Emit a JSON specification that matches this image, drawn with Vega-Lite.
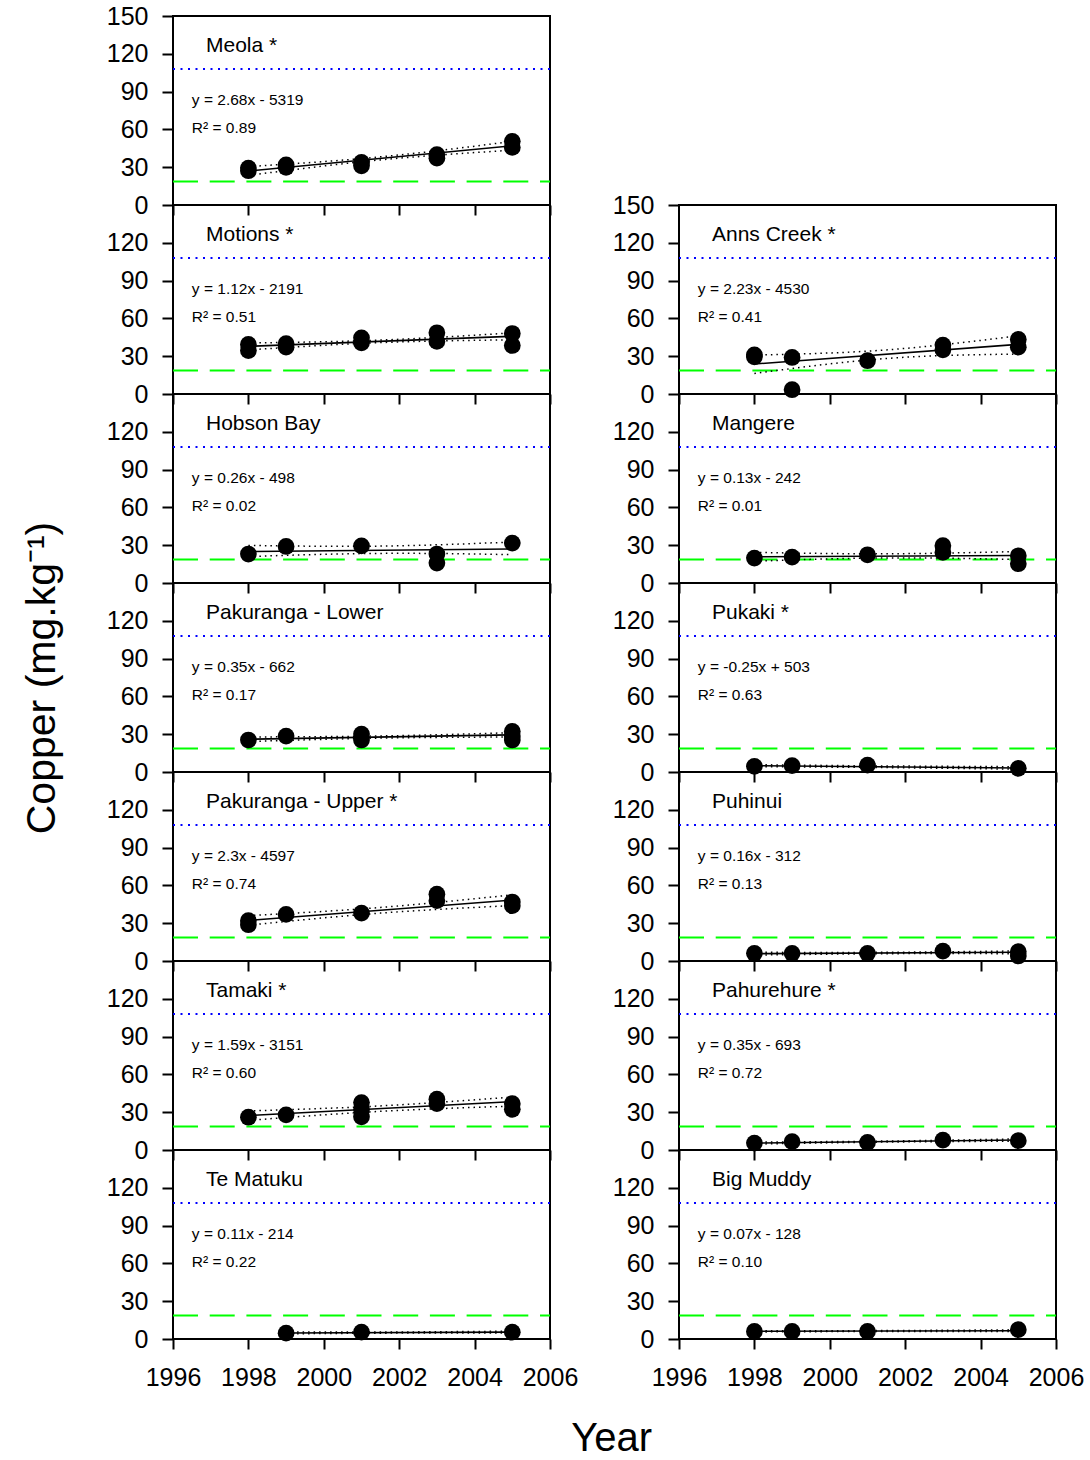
{
"$schema": "https://vega.github.io/schema/vega-lite/v6.json",
"background": "white",
"padding": {"left": 20, "top": 3, "right": 5, "bottom": 3},
"title": {"text": "Year", "orient": "bottom", "anchor": "middle", "fontSize": 40, "fontWeight": "normal", "font": "Liberation Sans", "color": "black", "offset": 28, "dx": 59},
"data": {"name": "cu"},
"datasets": {"cu": [
{"site":"Meola","kind":"label","title":"Meola *","eq":"y = 2.68x - 5319\nR² = 0.89"},
{"site":"Meola","kind":"obs","year":1998,"value":29.3},{"site":"Meola","kind":"obs","year":1998,"value":27.2},
{"site":"Meola","kind":"obs","year":1999,"value":31.9},{"site":"Meola","kind":"obs","year":1999,"value":29.9},
{"site":"Meola","kind":"obs","year":2001,"value":33.8},{"site":"Meola","kind":"obs","year":2001,"value":31.1},
{"site":"Meola","kind":"obs","year":2003,"value":39.9},{"site":"Meola","kind":"obs","year":2003,"value":37.2},
{"site":"Meola","kind":"obs","year":2005,"value":50.5},{"site":"Meola","kind":"obs","year":2005,"value":45.7},
{"site":"Meola","kind":"fit","year":1998,"value":27},{"site":"Meola","kind":"fit","year":2005,"value":47},
{"site":"Meola","kind":"upper","year":1998,"value":30.5},{"site":"Meola","kind":"upper","year":2001.5,"value":38.2},{"site":"Meola","kind":"upper","year":2005,"value":50.5},
{"site":"Meola","kind":"lower","year":1998,"value":23.5},{"site":"Meola","kind":"lower","year":2001.5,"value":35.8},{"site":"Meola","kind":"lower","year":2005,"value":43.5},
{"site":"Motions","kind":"label","title":"Motions *","eq":"y = 1.12x  - 2191\nR² = 0.51"},
{"site":"Motions","kind":"obs","year":1998,"value":39.3},{"site":"Motions","kind":"obs","year":1998,"value":34.5},
{"site":"Motions","kind":"obs","year":1999,"value":40},{"site":"Motions","kind":"obs","year":1999,"value":37.2},
{"site":"Motions","kind":"obs","year":2001,"value":44.6},{"site":"Motions","kind":"obs","year":2001,"value":40.6},
{"site":"Motions","kind":"obs","year":2003,"value":48.6},{"site":"Motions","kind":"obs","year":2003,"value":41.7},
{"site":"Motions","kind":"obs","year":2005,"value":48},{"site":"Motions","kind":"obs","year":2005,"value":38.5},
{"site":"Motions","kind":"fit","year":1998,"value":37.8},{"site":"Motions","kind":"fit","year":2005,"value":45.8},
{"site":"Motions","kind":"upper","year":1998,"value":40.5},{"site":"Motions","kind":"upper","year":2001.5,"value":42.8},{"site":"Motions","kind":"upper","year":2005,"value":48.5},
{"site":"Motions","kind":"lower","year":1998,"value":35},{"site":"Motions","kind":"lower","year":2001.5,"value":40.8},{"site":"Motions","kind":"lower","year":2005,"value":43},
{"site":"Hobson Bay","kind":"label","title":"Hobson Bay","eq":"y = 0.26x  - 498\nR² = 0.02"},
{"site":"Hobson Bay","kind":"obs","year":1998,"value":23},{"site":"Hobson Bay","kind":"obs","year":1999,"value":29},
{"site":"Hobson Bay","kind":"obs","year":2001,"value":29.5},{"site":"Hobson Bay","kind":"obs","year":2003,"value":23},
{"site":"Hobson Bay","kind":"obs","year":2003,"value":15.8},{"site":"Hobson Bay","kind":"obs","year":2005,"value":31.7},
{"site":"Hobson Bay","kind":"fit","year":1998,"value":25},{"site":"Hobson Bay","kind":"fit","year":2005,"value":27},
{"site":"Hobson Bay","kind":"upper","year":1998,"value":29.8},{"site":"Hobson Bay","kind":"upper","year":2001.5,"value":29.3},{"site":"Hobson Bay","kind":"upper","year":2005,"value":32.5},
{"site":"Hobson Bay","kind":"lower","year":1998,"value":21},{"site":"Hobson Bay","kind":"lower","year":2001.5,"value":23.5},{"site":"Hobson Bay","kind":"lower","year":2005,"value":22.5},
{"site":"Pakuranga - Lower","kind":"label","title":"Pakuranga - Lower","eq":"y = 0.35x - 662\nR² = 0.17"},
{"site":"Pakuranga - Lower","kind":"obs","year":1998,"value":25.4},{"site":"Pakuranga - Lower","kind":"obs","year":1999,"value":28.5},
{"site":"Pakuranga - Lower","kind":"obs","year":2001,"value":30.1},{"site":"Pakuranga - Lower","kind":"obs","year":2001,"value":25.4},
{"site":"Pakuranga - Lower","kind":"obs","year":2005,"value":32.2},{"site":"Pakuranga - Lower","kind":"obs","year":2005,"value":28.5},{"site":"Pakuranga - Lower","kind":"obs","year":2005,"value":25.4},
{"site":"Pakuranga - Lower","kind":"fit","year":1998,"value":26},{"site":"Pakuranga - Lower","kind":"fit","year":2005,"value":29.5},
{"site":"Pakuranga - Lower","kind":"upper","year":1998,"value":27.8},{"site":"Pakuranga - Lower","kind":"upper","year":2001.5,"value":28.6},{"site":"Pakuranga - Lower","kind":"upper","year":2005,"value":31.2},
{"site":"Pakuranga - Lower","kind":"lower","year":1998,"value":24.2},{"site":"Pakuranga - Lower","kind":"lower","year":2001.5,"value":26.9},{"site":"Pakuranga - Lower","kind":"lower","year":2005,"value":27.8},
{"site":"Pakuranga - Upper","kind":"label","title":"Pakuranga - Upper *","eq":"y = 2.3x - 4597\nR² = 0.74"},
{"site":"Pakuranga - Upper","kind":"obs","year":1998,"value":32},{"site":"Pakuranga - Upper","kind":"obs","year":1998,"value":28.8},
{"site":"Pakuranga - Upper","kind":"obs","year":1999,"value":37},{"site":"Pakuranga - Upper","kind":"obs","year":2001,"value":38},
{"site":"Pakuranga - Upper","kind":"obs","year":2003,"value":53},{"site":"Pakuranga - Upper","kind":"obs","year":2003,"value":47.9},
{"site":"Pakuranga - Upper","kind":"obs","year":2005,"value":46.8},{"site":"Pakuranga - Upper","kind":"obs","year":2005,"value":43.9},
{"site":"Pakuranga - Upper","kind":"fit","year":1998,"value":32.2},{"site":"Pakuranga - Upper","kind":"fit","year":2005,"value":48.3},
{"site":"Pakuranga - Upper","kind":"upper","year":1998,"value":36},{"site":"Pakuranga - Upper","kind":"upper","year":2001.5,"value":42.5},{"site":"Pakuranga - Upper","kind":"upper","year":2005,"value":52.5},
{"site":"Pakuranga - Upper","kind":"lower","year":1998,"value":28.4},{"site":"Pakuranga - Upper","kind":"lower","year":2001.5,"value":38},{"site":"Pakuranga - Upper","kind":"lower","year":2005,"value":44},
{"site":"Tamaki","kind":"label","title":"Tamaki *","eq":"y = 1.59x  - 3151\nR² = 0.60"},
{"site":"Tamaki","kind":"obs","year":1998,"value":26},{"site":"Tamaki","kind":"obs","year":1999,"value":27.9},
{"site":"Tamaki","kind":"obs","year":2001,"value":37.6},{"site":"Tamaki","kind":"obs","year":2001,"value":31.9},{"site":"Tamaki","kind":"obs","year":2001,"value":26.3},
{"site":"Tamaki","kind":"obs","year":2003,"value":40.3},{"site":"Tamaki","kind":"obs","year":2003,"value":36.8},
{"site":"Tamaki","kind":"obs","year":2005,"value":36.8},{"site":"Tamaki","kind":"obs","year":2005,"value":32.3},
{"site":"Tamaki","kind":"fit","year":1998,"value":27.3},{"site":"Tamaki","kind":"fit","year":2005,"value":38.4},
{"site":"Tamaki","kind":"upper","year":1998,"value":31},{"site":"Tamaki","kind":"upper","year":2001.5,"value":35},{"site":"Tamaki","kind":"upper","year":2005,"value":42},
{"site":"Tamaki","kind":"lower","year":1998,"value":23.5},{"site":"Tamaki","kind":"lower","year":2001.5,"value":30.7},{"site":"Tamaki","kind":"lower","year":2005,"value":34.8},
{"site":"Te Matuku","kind":"label","title":"Te Matuku","eq":"y = 0.11x  - 214\nR² = 0.22"},
{"site":"Te Matuku","kind":"obs","year":1999,"value":4.6},{"site":"Te Matuku","kind":"obs","year":2001,"value":5.4},{"site":"Te Matuku","kind":"obs","year":2005,"value":5.4},
{"site":"Te Matuku","kind":"fit","year":1999,"value":4.8},{"site":"Te Matuku","kind":"fit","year":2005,"value":5.5},
{"site":"Te Matuku","kind":"upper","year":1999,"value":5.5},{"site":"Te Matuku","kind":"upper","year":2002,"value":5.6},{"site":"Te Matuku","kind":"upper","year":2005,"value":6.2},
{"site":"Te Matuku","kind":"lower","year":1999,"value":4.1},{"site":"Te Matuku","kind":"lower","year":2002,"value":4.7},{"site":"Te Matuku","kind":"lower","year":2005,"value":4.8},
{"site":"Anns Creek","kind":"label","title":"Anns Creek *","eq":"y = 2.23x - 4530\nR² = 0.41"},
{"site":"Anns Creek","kind":"obs","year":1998,"value":31},{"site":"Anns Creek","kind":"obs","year":1998,"value":29.5},
{"site":"Anns Creek","kind":"obs","year":1999,"value":29},{"site":"Anns Creek","kind":"obs","year":1999,"value":3.4},
{"site":"Anns Creek","kind":"obs","year":2001,"value":26.4},
{"site":"Anns Creek","kind":"obs","year":2003,"value":38.8},{"site":"Anns Creek","kind":"obs","year":2003,"value":35.1},
{"site":"Anns Creek","kind":"obs","year":2005,"value":43.3},{"site":"Anns Creek","kind":"obs","year":2005,"value":37.2},
{"site":"Anns Creek","kind":"fit","year":1998,"value":23.8},{"site":"Anns Creek","kind":"fit","year":2005,"value":39.4},
{"site":"Anns Creek","kind":"upper","year":1998,"value":30.9},{"site":"Anns Creek","kind":"upper","year":2001.5,"value":35},{"site":"Anns Creek","kind":"upper","year":2005,"value":46.2},
{"site":"Anns Creek","kind":"lower","year":1998,"value":16.3},{"site":"Anns Creek","kind":"lower","year":2001.5,"value":28.2},{"site":"Anns Creek","kind":"lower","year":2005,"value":31.7},
{"site":"Mangere","kind":"label","title":"Mangere","eq":"y = 0.13x - 242\nR² = 0.01"},
{"site":"Mangere","kind":"obs","year":1998,"value":19.8},{"site":"Mangere","kind":"obs","year":1999,"value":20.6},
{"site":"Mangere","kind":"obs","year":2001,"value":22.4},{"site":"Mangere","kind":"obs","year":2003,"value":29.6},
{"site":"Mangere","kind":"obs","year":2003,"value":24.3},{"site":"Mangere","kind":"obs","year":2005,"value":21.6},{"site":"Mangere","kind":"obs","year":2005,"value":15.3},
{"site":"Mangere","kind":"fit","year":1998,"value":20.8},{"site":"Mangere","kind":"fit","year":2005,"value":21.8},
{"site":"Mangere","kind":"upper","year":1998,"value":24.3},{"site":"Mangere","kind":"upper","year":2001.5,"value":23.2},{"site":"Mangere","kind":"upper","year":2005,"value":25},
{"site":"Mangere","kind":"lower","year":1998,"value":17.3},{"site":"Mangere","kind":"lower","year":2001.5,"value":19.9},{"site":"Mangere","kind":"lower","year":2005,"value":18.6},
{"site":"Pukaki","kind":"label","title":"Pukaki *","eq":"y = -0.25x + 503\nR² = 0.63"},
{"site":"Pukaki","kind":"obs","year":1998,"value":4.5},{"site":"Pukaki","kind":"obs","year":1999,"value":5},
{"site":"Pukaki","kind":"obs","year":2001,"value":5.5},{"site":"Pukaki","kind":"obs","year":2005,"value":2.9},
{"site":"Pukaki","kind":"fit","year":1998,"value":5},{"site":"Pukaki","kind":"fit","year":2005,"value":3.2},
{"site":"Pukaki","kind":"upper","year":1998,"value":5.8},{"site":"Pukaki","kind":"upper","year":2001.5,"value":4.8},{"site":"Pukaki","kind":"upper","year":2005,"value":4.2},
{"site":"Pukaki","kind":"lower","year":1998,"value":4.2},{"site":"Pukaki","kind":"lower","year":2001.5,"value":3.5},{"site":"Pukaki","kind":"lower","year":2005,"value":2.2},
{"site":"Puhinui","kind":"label","title":"Puhinui","eq":"y = 0.16x - 312\nR² = 0.13"},
{"site":"Puhinui","kind":"obs","year":1998,"value":6.1},{"site":"Puhinui","kind":"obs","year":1999,"value":6.1},
{"site":"Puhinui","kind":"obs","year":2001,"value":6.1},{"site":"Puhinui","kind":"obs","year":2003,"value":7.9},
{"site":"Puhinui","kind":"obs","year":2005,"value":7.5},{"site":"Puhinui","kind":"obs","year":2005,"value":4},
{"site":"Puhinui","kind":"fit","year":1998,"value":5.8},{"site":"Puhinui","kind":"fit","year":2005,"value":6.9},
{"site":"Puhinui","kind":"upper","year":1998,"value":6.9},{"site":"Puhinui","kind":"upper","year":2001.5,"value":6.9},{"site":"Puhinui","kind":"upper","year":2005,"value":8},
{"site":"Puhinui","kind":"lower","year":1998,"value":4.7},{"site":"Puhinui","kind":"lower","year":2001.5,"value":5.8},{"site":"Puhinui","kind":"lower","year":2005,"value":5.8},
{"site":"Pahurehure","kind":"label","title":"Pahurehure *","eq":"y = 0.35x - 693\nR² = 0.72"},
{"site":"Pahurehure","kind":"obs","year":1998,"value":5.5},{"site":"Pahurehure","kind":"obs","year":1999,"value":6.6},
{"site":"Pahurehure","kind":"obs","year":2001,"value":6},{"site":"Pahurehure","kind":"obs","year":2003,"value":7.9},
{"site":"Pahurehure","kind":"obs","year":2005,"value":7.4},
{"site":"Pahurehure","kind":"fit","year":1998,"value":5.5},{"site":"Pahurehure","kind":"fit","year":2005,"value":7.9},
{"site":"Pahurehure","kind":"upper","year":1998,"value":6.3},{"site":"Pahurehure","kind":"upper","year":2001.5,"value":7.1},{"site":"Pahurehure","kind":"upper","year":2005,"value":8.8},
{"site":"Pahurehure","kind":"lower","year":1998,"value":4.7},{"site":"Pahurehure","kind":"lower","year":2001.5,"value":6.3},{"site":"Pahurehure","kind":"lower","year":2005,"value":7},
{"site":"Big Muddy","kind":"label","title":"Big Muddy","eq":"y = 0.07x - 128\nR² = 0.10"},
{"site":"Big Muddy","kind":"obs","year":1998,"value":6},{"site":"Big Muddy","kind":"obs","year":1999,"value":6},
{"site":"Big Muddy","kind":"obs","year":2001,"value":6},{"site":"Big Muddy","kind":"obs","year":2005,"value":7.4},
{"site":"Big Muddy","kind":"fit","year":1998,"value":6.1},{"site":"Big Muddy","kind":"fit","year":2005,"value":6.6},
{"site":"Big Muddy","kind":"upper","year":1998,"value":6.6},{"site":"Big Muddy","kind":"upper","year":2001.5,"value":6.7},{"site":"Big Muddy","kind":"upper","year":2005,"value":7.3},
{"site":"Big Muddy","kind":"lower","year":1998,"value":5.6},{"site":"Big Muddy","kind":"lower","year":2001.5,"value":6.0},{"site":"Big Muddy","kind":"lower","year":2005,"value":5.9}
]},
"columns": 2,
"spacing": {"row": 0, "column": 129},
"bounds": "flush",
"concat": [
{"width":377,"height":189,"transform":[{"filter":"datum.site==='Meola'"}],"layer":[
 {"transform":[{"filter":"datum.kind==='label'"}],"mark":{"type":"rule","color":"#0000ff","strokeWidth":2,"strokeDash":[2,5.5]},"encoding":{"x":{"datum":1996,"type":"quantitative"},"x2":{"datum":2006},"y":{"datum":108,"type":"quantitative"}}},
 {"transform":[{"filter":"datum.kind==='label'"}],"mark":{"type":"rule","color":"#00ff00","strokeWidth":2,"strokeDash":[25,11.7]},"encoding":{"x":{"datum":1996,"type":"quantitative"},"x2":{"datum":2006},"y":{"datum":18.7,"type":"quantitative"}}},
 {"transform":[{"filter":"datum.kind==='upper' || datum.kind==='lower'"}],"mark":{"type":"line","color":"black","strokeWidth":1.5,"strokeDash":[1.5,4],"interpolate":"natural"},"encoding":{"x":{"field":"year","type":"quantitative","scale":{"domain":[1996,2006],"nice":false,"zero":false},"axis":{"title":null,"values":[1996,1998,2000,2002,2004,2006],"format":"d","labels":false,"labelOverlap":false,"tickCount":12}},"y":{"field":"value","type":"quantitative","scale":{"domain":[0,150],"nice":false},"axis":{"title":null,"values":[0,30,60,90,120,150],"tickCount":12,"labelOverlap":false,"labelFlush":false}},"detail":{"field":"kind"}}},
 {"transform":[{"filter":"datum.kind==='fit'"}],"mark":{"type":"line","color":"black","strokeWidth":1.6},"encoding":{"x":{"field":"year","type":"quantitative","scale":{"domain":[1996,2006],"nice":false,"zero":false},"axis":{"title":null,"values":[1996,1998,2000,2002,2004,2006],"format":"d","labels":false,"labelOverlap":false,"tickCount":12}},"y":{"field":"value","type":"quantitative","scale":{"domain":[0,150],"nice":false},"axis":{"title":null,"values":[0,30,60,90,120,150],"tickCount":12,"labelOverlap":false,"labelFlush":false}}}},
 {"transform":[{"filter":"datum.kind==='obs'"}],"mark":{"type":"circle","color":"black","opacity":1,"size":280},"encoding":{"x":{"field":"year","type":"quantitative","scale":{"domain":[1996,2006],"nice":false,"zero":false},"axis":{"title":null,"values":[1996,1998,2000,2002,2004,2006],"format":"d","labels":false,"labelOverlap":false,"tickCount":12}},"y":{"field":"value","type":"quantitative","scale":{"domain":[0,150],"nice":false},"axis":{"title":null,"values":[0,30,60,90,120,150],"tickCount":12,"labelOverlap":false,"labelFlush":false}}}},
 {"transform":[{"filter":"datum.kind==='label'"}],"mark":{"type":"text","align":"left","baseline":"alphabetic","fontSize":21,"color":"black"},"encoding":{"x":{"datum":1996.875,"type":"quantitative"},"y":{"datum":121.5,"type":"quantitative"},"text":{"field":"title"}}},
 {"transform":[{"filter":"datum.kind==='label'"}],"mark":{"type":"text","align":"left","baseline":"alphabetic","fontSize":15.5,"color":"black","lineBreak":"\n","lineHeight":28.5},"encoding":{"x":{"datum":1996.5,"type":"quantitative"},"y":{"datum":79.6,"type":"quantitative"},"text":{"field":"eq"}}}
]},
{"width":377,"height":189,"view":{"stroke":null},"transform":[{"filter":"false"}],"mark":"point"},
{"width":377,"height":189,"transform":[{"filter":"datum.site==='Motions'"}],"layer":[
 {"transform":[{"filter":"datum.kind==='label'"}],"mark":{"type":"rule","color":"#0000ff","strokeWidth":2,"strokeDash":[2,5.5]},"encoding":{"x":{"datum":1996,"type":"quantitative"},"x2":{"datum":2006},"y":{"datum":108,"type":"quantitative"}}},
 {"transform":[{"filter":"datum.kind==='label'"}],"mark":{"type":"rule","color":"#00ff00","strokeWidth":2,"strokeDash":[25,11.7]},"encoding":{"x":{"datum":1996,"type":"quantitative"},"x2":{"datum":2006},"y":{"datum":18.7,"type":"quantitative"}}},
 {"transform":[{"filter":"datum.kind==='upper' || datum.kind==='lower'"}],"mark":{"type":"line","color":"black","strokeWidth":1.5,"strokeDash":[1.5,4],"interpolate":"natural"},"encoding":{"x":{"field":"year","type":"quantitative","scale":{"domain":[1996,2006],"nice":false,"zero":false},"axis":{"title":null,"values":[1996,1998,2000,2002,2004,2006],"format":"d","labels":false,"labelOverlap":false,"tickCount":12}},"y":{"field":"value","type":"quantitative","scale":{"domain":[0,150],"nice":false},"axis":{"title":null,"values":[0,30,60,90,120],"tickCount":12,"labelOverlap":false}},"detail":{"field":"kind"}}},
 {"transform":[{"filter":"datum.kind==='fit'"}],"mark":{"type":"line","color":"black","strokeWidth":1.6},"encoding":{"x":{"field":"year","type":"quantitative","scale":{"domain":[1996,2006],"nice":false,"zero":false},"axis":{"title":null,"values":[1996,1998,2000,2002,2004,2006],"format":"d","labels":false,"labelOverlap":false,"tickCount":12}},"y":{"field":"value","type":"quantitative","scale":{"domain":[0,150],"nice":false},"axis":{"title":null,"values":[0,30,60,90,120],"tickCount":12,"labelOverlap":false}}}},
 {"transform":[{"filter":"datum.kind==='obs'"}],"mark":{"type":"circle","color":"black","opacity":1,"size":280},"encoding":{"x":{"field":"year","type":"quantitative","scale":{"domain":[1996,2006],"nice":false,"zero":false},"axis":{"title":null,"values":[1996,1998,2000,2002,2004,2006],"format":"d","labels":false,"labelOverlap":false,"tickCount":12}},"y":{"field":"value","type":"quantitative","scale":{"domain":[0,150],"nice":false},"axis":{"title":null,"values":[0,30,60,90,120],"tickCount":12,"labelOverlap":false}}}},
 {"transform":[{"filter":"datum.kind==='label'"}],"mark":{"type":"text","align":"left","baseline":"alphabetic","fontSize":21,"color":"black"},"encoding":{"x":{"datum":1996.875,"type":"quantitative"},"y":{"datum":121.5,"type":"quantitative"},"text":{"field":"title"}}},
 {"transform":[{"filter":"datum.kind==='label'"}],"mark":{"type":"text","align":"left","baseline":"alphabetic","fontSize":15.5,"color":"black","lineBreak":"\n","lineHeight":28.5},"encoding":{"x":{"datum":1996.5,"type":"quantitative"},"y":{"datum":79.6,"type":"quantitative"},"text":{"field":"eq"}}}
]},
{"width":377,"height":189,"transform":[{"filter":"datum.site==='Anns Creek'"}],"layer":[
 {"transform":[{"filter":"datum.kind==='label'"}],"mark":{"type":"rule","color":"#0000ff","strokeWidth":2,"strokeDash":[2,5.5]},"encoding":{"x":{"datum":1996,"type":"quantitative"},"x2":{"datum":2006},"y":{"datum":108,"type":"quantitative"}}},
 {"transform":[{"filter":"datum.kind==='label'"}],"mark":{"type":"rule","color":"#00ff00","strokeWidth":2,"strokeDash":[25,11.7]},"encoding":{"x":{"datum":1996,"type":"quantitative"},"x2":{"datum":2006},"y":{"datum":18.7,"type":"quantitative"}}},
 {"transform":[{"filter":"datum.kind==='upper' || datum.kind==='lower'"}],"mark":{"type":"line","color":"black","strokeWidth":1.5,"strokeDash":[1.5,4],"interpolate":"natural"},"encoding":{"x":{"field":"year","type":"quantitative","scale":{"domain":[1996,2006],"nice":false,"zero":false},"axis":{"title":null,"values":[1996,1998,2000,2002,2004,2006],"format":"d","labels":false,"labelOverlap":false,"tickCount":12}},"y":{"field":"value","type":"quantitative","scale":{"domain":[0,150],"nice":false},"axis":{"title":null,"values":[0,30,60,90,120,150],"tickCount":12,"labelOverlap":false,"labelFlush":false}},"detail":{"field":"kind"}}},
 {"transform":[{"filter":"datum.kind==='fit'"}],"mark":{"type":"line","color":"black","strokeWidth":1.6},"encoding":{"x":{"field":"year","type":"quantitative","scale":{"domain":[1996,2006],"nice":false,"zero":false},"axis":{"title":null,"values":[1996,1998,2000,2002,2004,2006],"format":"d","labels":false,"labelOverlap":false,"tickCount":12}},"y":{"field":"value","type":"quantitative","scale":{"domain":[0,150],"nice":false},"axis":{"title":null,"values":[0,30,60,90,120,150],"tickCount":12,"labelOverlap":false,"labelFlush":false}}}},
 {"transform":[{"filter":"datum.kind==='obs'"}],"mark":{"type":"circle","color":"black","opacity":1,"size":280},"encoding":{"x":{"field":"year","type":"quantitative","scale":{"domain":[1996,2006],"nice":false,"zero":false},"axis":{"title":null,"values":[1996,1998,2000,2002,2004,2006],"format":"d","labels":false,"labelOverlap":false,"tickCount":12}},"y":{"field":"value","type":"quantitative","scale":{"domain":[0,150],"nice":false},"axis":{"title":null,"values":[0,30,60,90,120,150],"tickCount":12,"labelOverlap":false,"labelFlush":false}}}},
 {"transform":[{"filter":"datum.kind==='label'"}],"mark":{"type":"text","align":"left","baseline":"alphabetic","fontSize":21,"color":"black"},"encoding":{"x":{"datum":1996.875,"type":"quantitative"},"y":{"datum":121.5,"type":"quantitative"},"text":{"field":"title"}}},
 {"transform":[{"filter":"datum.kind==='label'"}],"mark":{"type":"text","align":"left","baseline":"alphabetic","fontSize":15.5,"color":"black","lineBreak":"\n","lineHeight":28.5},"encoding":{"x":{"datum":1996.5,"type":"quantitative"},"y":{"datum":79.6,"type":"quantitative"},"text":{"field":"eq"}}}
]},
{"width":377,"height":189,"transform":[{"filter":"datum.site==='Hobson Bay'"}],"layer":[
 {"transform":[{"filter":"datum.kind==='label'"}],"mark":{"type":"rule","color":"#0000ff","strokeWidth":2,"strokeDash":[2,5.5]},"encoding":{"x":{"datum":1996,"type":"quantitative"},"x2":{"datum":2006},"y":{"datum":108,"type":"quantitative"}}},
 {"transform":[{"filter":"datum.kind==='label'"}],"mark":{"type":"rule","color":"#00ff00","strokeWidth":2,"strokeDash":[25,11.7]},"encoding":{"x":{"datum":1996,"type":"quantitative"},"x2":{"datum":2006},"y":{"datum":18.7,"type":"quantitative"}}},
 {"transform":[{"filter":"datum.kind==='upper' || datum.kind==='lower'"}],"mark":{"type":"line","color":"black","strokeWidth":1.5,"strokeDash":[1.5,4],"interpolate":"natural"},"encoding":{"x":{"field":"year","type":"quantitative","scale":{"domain":[1996,2006],"nice":false,"zero":false},"axis":{"title":null,"values":[1996,1998,2000,2002,2004,2006],"format":"d","labels":false,"labelOverlap":false,"tickCount":12}},"y":{"field":"value","type":"quantitative","scale":{"domain":[0,150],"nice":false},"axis":{"title":null,"values":[0,30,60,90,120],"tickCount":12,"labelOverlap":false}},"detail":{"field":"kind"}}},
 {"transform":[{"filter":"datum.kind==='fit'"}],"mark":{"type":"line","color":"black","strokeWidth":1.6},"encoding":{"x":{"field":"year","type":"quantitative","scale":{"domain":[1996,2006],"nice":false,"zero":false},"axis":{"title":null,"values":[1996,1998,2000,2002,2004,2006],"format":"d","labels":false,"labelOverlap":false,"tickCount":12}},"y":{"field":"value","type":"quantitative","scale":{"domain":[0,150],"nice":false},"axis":{"title":null,"values":[0,30,60,90,120],"tickCount":12,"labelOverlap":false}}}},
 {"transform":[{"filter":"datum.kind==='obs'"}],"mark":{"type":"circle","color":"black","opacity":1,"size":280},"encoding":{"x":{"field":"year","type":"quantitative","scale":{"domain":[1996,2006],"nice":false,"zero":false},"axis":{"title":null,"values":[1996,1998,2000,2002,2004,2006],"format":"d","labels":false,"labelOverlap":false,"tickCount":12}},"y":{"field":"value","type":"quantitative","scale":{"domain":[0,150],"nice":false},"axis":{"title":null,"values":[0,30,60,90,120],"tickCount":12,"labelOverlap":false}}}},
 {"transform":[{"filter":"datum.kind==='label'"}],"mark":{"type":"text","align":"left","baseline":"alphabetic","fontSize":21,"color":"black"},"encoding":{"x":{"datum":1996.875,"type":"quantitative"},"y":{"datum":121.5,"type":"quantitative"},"text":{"field":"title"}}},
 {"transform":[{"filter":"datum.kind==='label'"}],"mark":{"type":"text","align":"left","baseline":"alphabetic","fontSize":15.5,"color":"black","lineBreak":"\n","lineHeight":28.5},"encoding":{"x":{"datum":1996.5,"type":"quantitative"},"y":{"datum":79.6,"type":"quantitative"},"text":{"field":"eq"}}}
]},
{"width":377,"height":189,"transform":[{"filter":"datum.site==='Mangere'"}],"layer":[
 {"transform":[{"filter":"datum.kind==='label'"}],"mark":{"type":"rule","color":"#0000ff","strokeWidth":2,"strokeDash":[2,5.5]},"encoding":{"x":{"datum":1996,"type":"quantitative"},"x2":{"datum":2006},"y":{"datum":108,"type":"quantitative"}}},
 {"transform":[{"filter":"datum.kind==='label'"}],"mark":{"type":"rule","color":"#00ff00","strokeWidth":2,"strokeDash":[25,11.7]},"encoding":{"x":{"datum":1996,"type":"quantitative"},"x2":{"datum":2006},"y":{"datum":18.7,"type":"quantitative"}}},
 {"transform":[{"filter":"datum.kind==='upper' || datum.kind==='lower'"}],"mark":{"type":"line","color":"black","strokeWidth":1.5,"strokeDash":[1.5,4],"interpolate":"natural"},"encoding":{"x":{"field":"year","type":"quantitative","scale":{"domain":[1996,2006],"nice":false,"zero":false},"axis":{"title":null,"values":[1996,1998,2000,2002,2004,2006],"format":"d","labels":false,"labelOverlap":false,"tickCount":12}},"y":{"field":"value","type":"quantitative","scale":{"domain":[0,150],"nice":false},"axis":{"title":null,"values":[0,30,60,90,120],"tickCount":12,"labelOverlap":false}},"detail":{"field":"kind"}}},
 {"transform":[{"filter":"datum.kind==='fit'"}],"mark":{"type":"line","color":"black","strokeWidth":1.6},"encoding":{"x":{"field":"year","type":"quantitative","scale":{"domain":[1996,2006],"nice":false,"zero":false},"axis":{"title":null,"values":[1996,1998,2000,2002,2004,2006],"format":"d","labels":false,"labelOverlap":false,"tickCount":12}},"y":{"field":"value","type":"quantitative","scale":{"domain":[0,150],"nice":false},"axis":{"title":null,"values":[0,30,60,90,120],"tickCount":12,"labelOverlap":false}}}},
 {"transform":[{"filter":"datum.kind==='obs'"}],"mark":{"type":"circle","color":"black","opacity":1,"size":280},"encoding":{"x":{"field":"year","type":"quantitative","scale":{"domain":[1996,2006],"nice":false,"zero":false},"axis":{"title":null,"values":[1996,1998,2000,2002,2004,2006],"format":"d","labels":false,"labelOverlap":false,"tickCount":12}},"y":{"field":"value","type":"quantitative","scale":{"domain":[0,150],"nice":false},"axis":{"title":null,"values":[0,30,60,90,120],"tickCount":12,"labelOverlap":false}}}},
 {"transform":[{"filter":"datum.kind==='label'"}],"mark":{"type":"text","align":"left","baseline":"alphabetic","fontSize":21,"color":"black"},"encoding":{"x":{"datum":1996.875,"type":"quantitative"},"y":{"datum":121.5,"type":"quantitative"},"text":{"field":"title"}}},
 {"transform":[{"filter":"datum.kind==='label'"}],"mark":{"type":"text","align":"left","baseline":"alphabetic","fontSize":15.5,"color":"black","lineBreak":"\n","lineHeight":28.5},"encoding":{"x":{"datum":1996.5,"type":"quantitative"},"y":{"datum":79.6,"type":"quantitative"},"text":{"field":"eq"}}}
]},
{"width":377,"height":189,"transform":[{"filter":"datum.site==='Pakuranga - Lower'"}],"layer":[
 {"transform":[{"filter":"datum.kind==='label'"}],"mark":{"type":"rule","color":"#0000ff","strokeWidth":2,"strokeDash":[2,5.5]},"encoding":{"x":{"datum":1996,"type":"quantitative"},"x2":{"datum":2006},"y":{"datum":108,"type":"quantitative"}}},
 {"transform":[{"filter":"datum.kind==='label'"}],"mark":{"type":"rule","color":"#00ff00","strokeWidth":2,"strokeDash":[25,11.7]},"encoding":{"x":{"datum":1996,"type":"quantitative"},"x2":{"datum":2006},"y":{"datum":18.7,"type":"quantitative"}}},
 {"transform":[{"filter":"datum.kind==='upper' || datum.kind==='lower'"}],"mark":{"type":"line","color":"black","strokeWidth":1.5,"strokeDash":[1.5,4],"interpolate":"natural"},"encoding":{"x":{"field":"year","type":"quantitative","scale":{"domain":[1996,2006],"nice":false,"zero":false},"axis":{"title":null,"values":[1996,1998,2000,2002,2004,2006],"format":"d","labels":false,"labelOverlap":false,"tickCount":12}},"y":{"field":"value","type":"quantitative","scale":{"domain":[0,150],"nice":false},"axis":{"title":"Copper (mg.kg⁻¹)","titleFontSize":41,"titleFontWeight":"normal","titleFont":"Liberation Sans","titleColor":"black","titlePadding":43,"values":[0,30,60,90,120],"tickCount":12,"labelOverlap":false}},"detail":{"field":"kind"}}},
 {"transform":[{"filter":"datum.kind==='fit'"}],"mark":{"type":"line","color":"black","strokeWidth":1.6},"encoding":{"x":{"field":"year","type":"quantitative","scale":{"domain":[1996,2006],"nice":false,"zero":false},"axis":{"title":null,"values":[1996,1998,2000,2002,2004,2006],"format":"d","labels":false,"labelOverlap":false,"tickCount":12}},"y":{"field":"value","type":"quantitative","scale":{"domain":[0,150],"nice":false},"axis":{"title":"Copper (mg.kg⁻¹)","titleFontSize":41,"titleFontWeight":"normal","titleFont":"Liberation Sans","titleColor":"black","titlePadding":43,"values":[0,30,60,90,120],"tickCount":12,"labelOverlap":false}}}},
 {"transform":[{"filter":"datum.kind==='obs'"}],"mark":{"type":"circle","color":"black","opacity":1,"size":280},"encoding":{"x":{"field":"year","type":"quantitative","scale":{"domain":[1996,2006],"nice":false,"zero":false},"axis":{"title":null,"values":[1996,1998,2000,2002,2004,2006],"format":"d","labels":false,"labelOverlap":false,"tickCount":12}},"y":{"field":"value","type":"quantitative","scale":{"domain":[0,150],"nice":false},"axis":{"title":"Copper (mg.kg⁻¹)","titleFontSize":41,"titleFontWeight":"normal","titleFont":"Liberation Sans","titleColor":"black","titlePadding":43,"values":[0,30,60,90,120],"tickCount":12,"labelOverlap":false}}}},
 {"transform":[{"filter":"datum.kind==='label'"}],"mark":{"type":"text","align":"left","baseline":"alphabetic","fontSize":21,"color":"black"},"encoding":{"x":{"datum":1996.875,"type":"quantitative"},"y":{"datum":121.5,"type":"quantitative"},"text":{"field":"title"}}},
 {"transform":[{"filter":"datum.kind==='label'"}],"mark":{"type":"text","align":"left","baseline":"alphabetic","fontSize":15.5,"color":"black","lineBreak":"\n","lineHeight":28.5},"encoding":{"x":{"datum":1996.5,"type":"quantitative"},"y":{"datum":79.6,"type":"quantitative"},"text":{"field":"eq"}}}
]},
{"width":377,"height":189,"transform":[{"filter":"datum.site==='Pukaki'"}],"layer":[
 {"transform":[{"filter":"datum.kind==='label'"}],"mark":{"type":"rule","color":"#0000ff","strokeWidth":2,"strokeDash":[2,5.5]},"encoding":{"x":{"datum":1996,"type":"quantitative"},"x2":{"datum":2006},"y":{"datum":108,"type":"quantitative"}}},
 {"transform":[{"filter":"datum.kind==='label'"}],"mark":{"type":"rule","color":"#00ff00","strokeWidth":2,"strokeDash":[25,11.7]},"encoding":{"x":{"datum":1996,"type":"quantitative"},"x2":{"datum":2006},"y":{"datum":18.7,"type":"quantitative"}}},
 {"transform":[{"filter":"datum.kind==='upper' || datum.kind==='lower'"}],"mark":{"type":"line","color":"black","strokeWidth":1.5,"strokeDash":[1.5,4],"interpolate":"natural"},"encoding":{"x":{"field":"year","type":"quantitative","scale":{"domain":[1996,2006],"nice":false,"zero":false},"axis":{"title":null,"values":[1996,1998,2000,2002,2004,2006],"format":"d","labels":false,"labelOverlap":false,"tickCount":12}},"y":{"field":"value","type":"quantitative","scale":{"domain":[0,150],"nice":false},"axis":{"title":null,"values":[0,30,60,90,120],"tickCount":12,"labelOverlap":false}},"detail":{"field":"kind"}}},
 {"transform":[{"filter":"datum.kind==='fit'"}],"mark":{"type":"line","color":"black","strokeWidth":1.6},"encoding":{"x":{"field":"year","type":"quantitative","scale":{"domain":[1996,2006],"nice":false,"zero":false},"axis":{"title":null,"values":[1996,1998,2000,2002,2004,2006],"format":"d","labels":false,"labelOverlap":false,"tickCount":12}},"y":{"field":"value","type":"quantitative","scale":{"domain":[0,150],"nice":false},"axis":{"title":null,"values":[0,30,60,90,120],"tickCount":12,"labelOverlap":false}}}},
 {"transform":[{"filter":"datum.kind==='obs'"}],"mark":{"type":"circle","color":"black","opacity":1,"size":280},"encoding":{"x":{"field":"year","type":"quantitative","scale":{"domain":[1996,2006],"nice":false,"zero":false},"axis":{"title":null,"values":[1996,1998,2000,2002,2004,2006],"format":"d","labels":false,"labelOverlap":false,"tickCount":12}},"y":{"field":"value","type":"quantitative","scale":{"domain":[0,150],"nice":false},"axis":{"title":null,"values":[0,30,60,90,120],"tickCount":12,"labelOverlap":false}}}},
 {"transform":[{"filter":"datum.kind==='label'"}],"mark":{"type":"text","align":"left","baseline":"alphabetic","fontSize":21,"color":"black"},"encoding":{"x":{"datum":1996.875,"type":"quantitative"},"y":{"datum":121.5,"type":"quantitative"},"text":{"field":"title"}}},
 {"transform":[{"filter":"datum.kind==='label'"}],"mark":{"type":"text","align":"left","baseline":"alphabetic","fontSize":15.5,"color":"black","lineBreak":"\n","lineHeight":28.5},"encoding":{"x":{"datum":1996.5,"type":"quantitative"},"y":{"datum":79.6,"type":"quantitative"},"text":{"field":"eq"}}}
]},
{"width":377,"height":189,"transform":[{"filter":"datum.site==='Pakuranga - Upper'"}],"layer":[
 {"transform":[{"filter":"datum.kind==='label'"}],"mark":{"type":"rule","color":"#0000ff","strokeWidth":2,"strokeDash":[2,5.5]},"encoding":{"x":{"datum":1996,"type":"quantitative"},"x2":{"datum":2006},"y":{"datum":108,"type":"quantitative"}}},
 {"transform":[{"filter":"datum.kind==='label'"}],"mark":{"type":"rule","color":"#00ff00","strokeWidth":2,"strokeDash":[25,11.7]},"encoding":{"x":{"datum":1996,"type":"quantitative"},"x2":{"datum":2006},"y":{"datum":18.7,"type":"quantitative"}}},
 {"transform":[{"filter":"datum.kind==='upper' || datum.kind==='lower'"}],"mark":{"type":"line","color":"black","strokeWidth":1.5,"strokeDash":[1.5,4],"interpolate":"natural"},"encoding":{"x":{"field":"year","type":"quantitative","scale":{"domain":[1996,2006],"nice":false,"zero":false},"axis":{"title":null,"values":[1996,1998,2000,2002,2004,2006],"format":"d","labels":false,"labelOverlap":false,"tickCount":12}},"y":{"field":"value","type":"quantitative","scale":{"domain":[0,150],"nice":false},"axis":{"title":null,"values":[0,30,60,90,120],"tickCount":12,"labelOverlap":false}},"detail":{"field":"kind"}}},
 {"transform":[{"filter":"datum.kind==='fit'"}],"mark":{"type":"line","color":"black","strokeWidth":1.6},"encoding":{"x":{"field":"year","type":"quantitative","scale":{"domain":[1996,2006],"nice":false,"zero":false},"axis":{"title":null,"values":[1996,1998,2000,2002,2004,2006],"format":"d","labels":false,"labelOverlap":false,"tickCount":12}},"y":{"field":"value","type":"quantitative","scale":{"domain":[0,150],"nice":false},"axis":{"title":null,"values":[0,30,60,90,120],"tickCount":12,"labelOverlap":false}}}},
 {"transform":[{"filter":"datum.kind==='obs'"}],"mark":{"type":"circle","color":"black","opacity":1,"size":280},"encoding":{"x":{"field":"year","type":"quantitative","scale":{"domain":[1996,2006],"nice":false,"zero":false},"axis":{"title":null,"values":[1996,1998,2000,2002,2004,2006],"format":"d","labels":false,"labelOverlap":false,"tickCount":12}},"y":{"field":"value","type":"quantitative","scale":{"domain":[0,150],"nice":false},"axis":{"title":null,"values":[0,30,60,90,120],"tickCount":12,"labelOverlap":false}}}},
 {"transform":[{"filter":"datum.kind==='label'"}],"mark":{"type":"text","align":"left","baseline":"alphabetic","fontSize":21,"color":"black"},"encoding":{"x":{"datum":1996.875,"type":"quantitative"},"y":{"datum":121.5,"type":"quantitative"},"text":{"field":"title"}}},
 {"transform":[{"filter":"datum.kind==='label'"}],"mark":{"type":"text","align":"left","baseline":"alphabetic","fontSize":15.5,"color":"black","lineBreak":"\n","lineHeight":28.5},"encoding":{"x":{"datum":1996.5,"type":"quantitative"},"y":{"datum":79.6,"type":"quantitative"},"text":{"field":"eq"}}}
]},
{"width":377,"height":189,"transform":[{"filter":"datum.site==='Puhinui'"}],"layer":[
 {"transform":[{"filter":"datum.kind==='label'"}],"mark":{"type":"rule","color":"#0000ff","strokeWidth":2,"strokeDash":[2,5.5]},"encoding":{"x":{"datum":1996,"type":"quantitative"},"x2":{"datum":2006},"y":{"datum":108,"type":"quantitative"}}},
 {"transform":[{"filter":"datum.kind==='label'"}],"mark":{"type":"rule","color":"#00ff00","strokeWidth":2,"strokeDash":[25,11.7]},"encoding":{"x":{"datum":1996,"type":"quantitative"},"x2":{"datum":2006},"y":{"datum":18.7,"type":"quantitative"}}},
 {"transform":[{"filter":"datum.kind==='upper' || datum.kind==='lower'"}],"mark":{"type":"line","color":"black","strokeWidth":1.5,"strokeDash":[1.5,4],"interpolate":"natural"},"encoding":{"x":{"field":"year","type":"quantitative","scale":{"domain":[1996,2006],"nice":false,"zero":false},"axis":{"title":null,"values":[1996,1998,2000,2002,2004,2006],"format":"d","labels":false,"labelOverlap":false,"tickCount":12}},"y":{"field":"value","type":"quantitative","scale":{"domain":[0,150],"nice":false},"axis":{"title":null,"values":[0,30,60,90,120],"tickCount":12,"labelOverlap":false}},"detail":{"field":"kind"}}},
 {"transform":[{"filter":"datum.kind==='fit'"}],"mark":{"type":"line","color":"black","strokeWidth":1.6},"encoding":{"x":{"field":"year","type":"quantitative","scale":{"domain":[1996,2006],"nice":false,"zero":false},"axis":{"title":null,"values":[1996,1998,2000,2002,2004,2006],"format":"d","labels":false,"labelOverlap":false,"tickCount":12}},"y":{"field":"value","type":"quantitative","scale":{"domain":[0,150],"nice":false},"axis":{"title":null,"values":[0,30,60,90,120],"tickCount":12,"labelOverlap":false}}}},
 {"transform":[{"filter":"datum.kind==='obs'"}],"mark":{"type":"circle","color":"black","opacity":1,"size":280},"encoding":{"x":{"field":"year","type":"quantitative","scale":{"domain":[1996,2006],"nice":false,"zero":false},"axis":{"title":null,"values":[1996,1998,2000,2002,2004,2006],"format":"d","labels":false,"labelOverlap":false,"tickCount":12}},"y":{"field":"value","type":"quantitative","scale":{"domain":[0,150],"nice":false},"axis":{"title":null,"values":[0,30,60,90,120],"tickCount":12,"labelOverlap":false}}}},
 {"transform":[{"filter":"datum.kind==='label'"}],"mark":{"type":"text","align":"left","baseline":"alphabetic","fontSize":21,"color":"black"},"encoding":{"x":{"datum":1996.875,"type":"quantitative"},"y":{"datum":121.5,"type":"quantitative"},"text":{"field":"title"}}},
 {"transform":[{"filter":"datum.kind==='label'"}],"mark":{"type":"text","align":"left","baseline":"alphabetic","fontSize":15.5,"color":"black","lineBreak":"\n","lineHeight":28.5},"encoding":{"x":{"datum":1996.5,"type":"quantitative"},"y":{"datum":79.6,"type":"quantitative"},"text":{"field":"eq"}}}
]},
{"width":377,"height":189,"transform":[{"filter":"datum.site==='Tamaki'"}],"layer":[
 {"transform":[{"filter":"datum.kind==='label'"}],"mark":{"type":"rule","color":"#0000ff","strokeWidth":2,"strokeDash":[2,5.5]},"encoding":{"x":{"datum":1996,"type":"quantitative"},"x2":{"datum":2006},"y":{"datum":108,"type":"quantitative"}}},
 {"transform":[{"filter":"datum.kind==='label'"}],"mark":{"type":"rule","color":"#00ff00","strokeWidth":2,"strokeDash":[25,11.7]},"encoding":{"x":{"datum":1996,"type":"quantitative"},"x2":{"datum":2006},"y":{"datum":18.7,"type":"quantitative"}}},
 {"transform":[{"filter":"datum.kind==='upper' || datum.kind==='lower'"}],"mark":{"type":"line","color":"black","strokeWidth":1.5,"strokeDash":[1.5,4],"interpolate":"natural"},"encoding":{"x":{"field":"year","type":"quantitative","scale":{"domain":[1996,2006],"nice":false,"zero":false},"axis":{"title":null,"values":[1996,1998,2000,2002,2004,2006],"format":"d","labels":false,"labelOverlap":false,"tickCount":12}},"y":{"field":"value","type":"quantitative","scale":{"domain":[0,150],"nice":false},"axis":{"title":null,"values":[0,30,60,90,120],"tickCount":12,"labelOverlap":false}},"detail":{"field":"kind"}}},
 {"transform":[{"filter":"datum.kind==='fit'"}],"mark":{"type":"line","color":"black","strokeWidth":1.6},"encoding":{"x":{"field":"year","type":"quantitative","scale":{"domain":[1996,2006],"nice":false,"zero":false},"axis":{"title":null,"values":[1996,1998,2000,2002,2004,2006],"format":"d","labels":false,"labelOverlap":false,"tickCount":12}},"y":{"field":"value","type":"quantitative","scale":{"domain":[0,150],"nice":false},"axis":{"title":null,"values":[0,30,60,90,120],"tickCount":12,"labelOverlap":false}}}},
 {"transform":[{"filter":"datum.kind==='obs'"}],"mark":{"type":"circle","color":"black","opacity":1,"size":280},"encoding":{"x":{"field":"year","type":"quantitative","scale":{"domain":[1996,2006],"nice":false,"zero":false},"axis":{"title":null,"values":[1996,1998,2000,2002,2004,2006],"format":"d","labels":false,"labelOverlap":false,"tickCount":12}},"y":{"field":"value","type":"quantitative","scale":{"domain":[0,150],"nice":false},"axis":{"title":null,"values":[0,30,60,90,120],"tickCount":12,"labelOverlap":false}}}},
 {"transform":[{"filter":"datum.kind==='label'"}],"mark":{"type":"text","align":"left","baseline":"alphabetic","fontSize":21,"color":"black"},"encoding":{"x":{"datum":1996.875,"type":"quantitative"},"y":{"datum":121.5,"type":"quantitative"},"text":{"field":"title"}}},
 {"transform":[{"filter":"datum.kind==='label'"}],"mark":{"type":"text","align":"left","baseline":"alphabetic","fontSize":15.5,"color":"black","lineBreak":"\n","lineHeight":28.5},"encoding":{"x":{"datum":1996.5,"type":"quantitative"},"y":{"datum":79.6,"type":"quantitative"},"text":{"field":"eq"}}}
]},
{"width":377,"height":189,"transform":[{"filter":"datum.site==='Pahurehure'"}],"layer":[
 {"transform":[{"filter":"datum.kind==='label'"}],"mark":{"type":"rule","color":"#0000ff","strokeWidth":2,"strokeDash":[2,5.5]},"encoding":{"x":{"datum":1996,"type":"quantitative"},"x2":{"datum":2006},"y":{"datum":108,"type":"quantitative"}}},
 {"transform":[{"filter":"datum.kind==='label'"}],"mark":{"type":"rule","color":"#00ff00","strokeWidth":2,"strokeDash":[25,11.7]},"encoding":{"x":{"datum":1996,"type":"quantitative"},"x2":{"datum":2006},"y":{"datum":18.7,"type":"quantitative"}}},
 {"transform":[{"filter":"datum.kind==='upper' || datum.kind==='lower'"}],"mark":{"type":"line","color":"black","strokeWidth":1.5,"strokeDash":[1.5,4],"interpolate":"natural"},"encoding":{"x":{"field":"year","type":"quantitative","scale":{"domain":[1996,2006],"nice":false,"zero":false},"axis":{"title":null,"values":[1996,1998,2000,2002,2004,2006],"format":"d","labels":false,"labelOverlap":false,"tickCount":12}},"y":{"field":"value","type":"quantitative","scale":{"domain":[0,150],"nice":false},"axis":{"title":null,"values":[0,30,60,90,120],"tickCount":12,"labelOverlap":false}},"detail":{"field":"kind"}}},
 {"transform":[{"filter":"datum.kind==='fit'"}],"mark":{"type":"line","color":"black","strokeWidth":1.6},"encoding":{"x":{"field":"year","type":"quantitative","scale":{"domain":[1996,2006],"nice":false,"zero":false},"axis":{"title":null,"values":[1996,1998,2000,2002,2004,2006],"format":"d","labels":false,"labelOverlap":false,"tickCount":12}},"y":{"field":"value","type":"quantitative","scale":{"domain":[0,150],"nice":false},"axis":{"title":null,"values":[0,30,60,90,120],"tickCount":12,"labelOverlap":false}}}},
 {"transform":[{"filter":"datum.kind==='obs'"}],"mark":{"type":"circle","color":"black","opacity":1,"size":280},"encoding":{"x":{"field":"year","type":"quantitative","scale":{"domain":[1996,2006],"nice":false,"zero":false},"axis":{"title":null,"values":[1996,1998,2000,2002,2004,2006],"format":"d","labels":false,"labelOverlap":false,"tickCount":12}},"y":{"field":"value","type":"quantitative","scale":{"domain":[0,150],"nice":false},"axis":{"title":null,"values":[0,30,60,90,120],"tickCount":12,"labelOverlap":false}}}},
 {"transform":[{"filter":"datum.kind==='label'"}],"mark":{"type":"text","align":"left","baseline":"alphabetic","fontSize":21,"color":"black"},"encoding":{"x":{"datum":1996.875,"type":"quantitative"},"y":{"datum":121.5,"type":"quantitative"},"text":{"field":"title"}}},
 {"transform":[{"filter":"datum.kind==='label'"}],"mark":{"type":"text","align":"left","baseline":"alphabetic","fontSize":15.5,"color":"black","lineBreak":"\n","lineHeight":28.5},"encoding":{"x":{"datum":1996.5,"type":"quantitative"},"y":{"datum":79.6,"type":"quantitative"},"text":{"field":"eq"}}}
]},
{"width":377,"height":189,"transform":[{"filter":"datum.site==='Te Matuku'"}],"layer":[
 {"transform":[{"filter":"datum.kind==='label'"}],"mark":{"type":"rule","color":"#0000ff","strokeWidth":2,"strokeDash":[2,5.5]},"encoding":{"x":{"datum":1996,"type":"quantitative"},"x2":{"datum":2006},"y":{"datum":108,"type":"quantitative"}}},
 {"transform":[{"filter":"datum.kind==='label'"}],"mark":{"type":"rule","color":"#00ff00","strokeWidth":2,"strokeDash":[25,11.7]},"encoding":{"x":{"datum":1996,"type":"quantitative"},"x2":{"datum":2006},"y":{"datum":18.7,"type":"quantitative"}}},
 {"transform":[{"filter":"datum.kind==='upper' || datum.kind==='lower'"}],"mark":{"type":"line","color":"black","strokeWidth":1.5,"strokeDash":[1.5,4],"interpolate":"natural"},"encoding":{"x":{"field":"year","type":"quantitative","scale":{"domain":[1996,2006],"nice":false,"zero":false},"axis":{"title":null,"values":[1996,1998,2000,2002,2004,2006],"format":"d","labels":true,"labelOverlap":false,"tickCount":12}},"y":{"field":"value","type":"quantitative","scale":{"domain":[0,150],"nice":false},"axis":{"title":null,"values":[0,30,60,90,120],"tickCount":12,"labelOverlap":false}},"detail":{"field":"kind"}}},
 {"transform":[{"filter":"datum.kind==='fit'"}],"mark":{"type":"line","color":"black","strokeWidth":1.6},"encoding":{"x":{"field":"year","type":"quantitative","scale":{"domain":[1996,2006],"nice":false,"zero":false},"axis":{"title":null,"values":[1996,1998,2000,2002,2004,2006],"format":"d","labels":true,"labelOverlap":false,"tickCount":12}},"y":{"field":"value","type":"quantitative","scale":{"domain":[0,150],"nice":false},"axis":{"title":null,"values":[0,30,60,90,120],"tickCount":12,"labelOverlap":false}}}},
 {"transform":[{"filter":"datum.kind==='obs'"}],"mark":{"type":"circle","color":"black","opacity":1,"size":280},"encoding":{"x":{"field":"year","type":"quantitative","scale":{"domain":[1996,2006],"nice":false,"zero":false},"axis":{"title":null,"values":[1996,1998,2000,2002,2004,2006],"format":"d","labels":true,"labelOverlap":false,"tickCount":12}},"y":{"field":"value","type":"quantitative","scale":{"domain":[0,150],"nice":false},"axis":{"title":null,"values":[0,30,60,90,120],"tickCount":12,"labelOverlap":false}}}},
 {"transform":[{"filter":"datum.kind==='label'"}],"mark":{"type":"text","align":"left","baseline":"alphabetic","fontSize":21,"color":"black"},"encoding":{"x":{"datum":1996.875,"type":"quantitative"},"y":{"datum":121.5,"type":"quantitative"},"text":{"field":"title"}}},
 {"transform":[{"filter":"datum.kind==='label'"}],"mark":{"type":"text","align":"left","baseline":"alphabetic","fontSize":15.5,"color":"black","lineBreak":"\n","lineHeight":28.5},"encoding":{"x":{"datum":1996.5,"type":"quantitative"},"y":{"datum":79.6,"type":"quantitative"},"text":{"field":"eq"}}}
]},
{"width":377,"height":189,"transform":[{"filter":"datum.site==='Big Muddy'"}],"layer":[
 {"transform":[{"filter":"datum.kind==='label'"}],"mark":{"type":"rule","color":"#0000ff","strokeWidth":2,"strokeDash":[2,5.5]},"encoding":{"x":{"datum":1996,"type":"quantitative"},"x2":{"datum":2006},"y":{"datum":108,"type":"quantitative"}}},
 {"transform":[{"filter":"datum.kind==='label'"}],"mark":{"type":"rule","color":"#00ff00","strokeWidth":2,"strokeDash":[25,11.7]},"encoding":{"x":{"datum":1996,"type":"quantitative"},"x2":{"datum":2006},"y":{"datum":18.7,"type":"quantitative"}}},
 {"transform":[{"filter":"datum.kind==='upper' || datum.kind==='lower'"}],"mark":{"type":"line","color":"black","strokeWidth":1.5,"strokeDash":[1.5,4],"interpolate":"natural"},"encoding":{"x":{"field":"year","type":"quantitative","scale":{"domain":[1996,2006],"nice":false,"zero":false},"axis":{"title":null,"values":[1996,1998,2000,2002,2004,2006],"format":"d","labels":true,"labelOverlap":false,"tickCount":12}},"y":{"field":"value","type":"quantitative","scale":{"domain":[0,150],"nice":false},"axis":{"title":null,"values":[0,30,60,90,120],"tickCount":12,"labelOverlap":false}},"detail":{"field":"kind"}}},
 {"transform":[{"filter":"datum.kind==='fit'"}],"mark":{"type":"line","color":"black","strokeWidth":1.6},"encoding":{"x":{"field":"year","type":"quantitative","scale":{"domain":[1996,2006],"nice":false,"zero":false},"axis":{"title":null,"values":[1996,1998,2000,2002,2004,2006],"format":"d","labels":true,"labelOverlap":false,"tickCount":12}},"y":{"field":"value","type":"quantitative","scale":{"domain":[0,150],"nice":false},"axis":{"title":null,"values":[0,30,60,90,120],"tickCount":12,"labelOverlap":false}}}},
 {"transform":[{"filter":"datum.kind==='obs'"}],"mark":{"type":"circle","color":"black","opacity":1,"size":280},"encoding":{"x":{"field":"year","type":"quantitative","scale":{"domain":[1996,2006],"nice":false,"zero":false},"axis":{"title":null,"values":[1996,1998,2000,2002,2004,2006],"format":"d","labels":true,"labelOverlap":false,"tickCount":12}},"y":{"field":"value","type":"quantitative","scale":{"domain":[0,150],"nice":false},"axis":{"title":null,"values":[0,30,60,90,120],"tickCount":12,"labelOverlap":false}}}},
 {"transform":[{"filter":"datum.kind==='label'"}],"mark":{"type":"text","align":"left","baseline":"alphabetic","fontSize":21,"color":"black"},"encoding":{"x":{"datum":1996.875,"type":"quantitative"},"y":{"datum":121.5,"type":"quantitative"},"text":{"field":"title"}}},
 {"transform":[{"filter":"datum.kind==='label'"}],"mark":{"type":"text","align":"left","baseline":"alphabetic","fontSize":15.5,"color":"black","lineBreak":"\n","lineHeight":28.5},"encoding":{"x":{"datum":1996.5,"type":"quantitative"},"y":{"datum":79.6,"type":"quantitative"},"text":{"field":"eq"}}}
]}
],
"config": {
 "font": "Liberation Sans",
 "view": {"stroke": "black", "strokeWidth": 2},
 "axis": {"grid": false, "domain": false, "labelFont": "Liberation Sans", "labelFontSize": 25, "labelColor": "black", "tickColor": "black", "tickWidth": 2, "labelFlush": false, "labelOverlap": false},
 "axisX": {"tickSize": 10, "labelPadding": 16},
 "axisY": {"tickSize": 11, "labelPadding": 14},
 "text": {"font": "Liberation Sans", "color": "black"}
}
}
